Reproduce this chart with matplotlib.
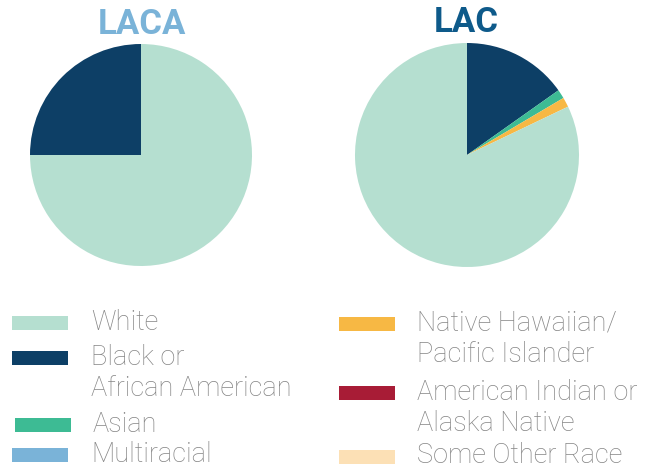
import matplotlib
matplotlib.use("Agg")
import matplotlib.pyplot as plt
from matplotlib.patches import Rectangle

plt.rcParams["font.family"] = ["Roboto", "DejaVu Sans"]

categories = ["White", "Black or\nAfrican American", "Asian", "Multiracial",
              "Native Hawaiian/\nPacific Islander", "American Indian or\nAlaska Native",
              "Some Other Race"]
colors = ["#b5dfd0", "#0d3f66", "#3dbb94", "#7ab3d8", "#f7b844", "#a81c36", "#fce0b5"]

# LACA: White, Black
laca_labels = ["White", "Black"]
laca_values = [75.0, 25.0]
laca_colors = ["#b5dfd0", "#0d3f66"]

# LAC: Black, Asian, Native Hawaiian, White (clockwise from top)
lac_labels = ["Black", "Asian", "Native Hawaiian", "White"]
lac_values = [15.2, 1.3, 1.4, 82.1]
lac_colors = ["#0d3f66", "#3dbb94", "#f7b844", "#b5dfd0"]

W, H = 645, 467
fig = plt.figure(figsize=(W / 100, H / 100), dpi=100)


def pie_axes(cx, cy, r):
    ax = fig.add_axes([(cx - r) / W, (H - cy - r) / H, 2 * r / W, 2 * r / H])
    ax.axis("off")
    return ax


ax1 = pie_axes(141, 155, 111)
ax1.pie(laca_values, colors=laca_colors, startangle=90, counterclock=False,
        radius=1, wedgeprops={"linewidth": 0})
ax1.set_xlim(-1, 1)
ax1.set_ylim(-1, 1)

ax2 = pie_axes(467, 155, 112)
ax2.pie(lac_values, colors=lac_colors, startangle=90, counterclock=False,
        radius=1, wedgeprops={"linewidth": 0})
ax2.set_xlim(-1, 1)
ax2.set_ylim(-1, 1)

fig.text(142 / W, 1 - 24 / H, "LACA", ha="center", va="center", fontsize=25,
         fontweight="bold", color="#7ab3d8")
fig.text(466 / W, 1 - 23 / H, "LAC", ha="center", va="center", fontsize=25,
         fontweight="bold", color="#0e5a8a")

# legend drawn in pixel space
lg = fig.add_axes([0, 0, 1, 1])
lg.set_xlim(0, W)
lg.set_ylim(H, 0)
lg.axis("off")

# (patch x, patch y center, text x, text baseline of first line)
slots = [(12, 323, 91, 330), (12, 358, 91, 365), (15, 425, 93, 432), (12, 455, 91, 462),
         (339, 324, 417, 331), (339, 393, 417, 400), (339, 457, 417, 463)]
line_gap = 31
for (px, py, tx, ty), label, c in zip(slots, categories, colors):
    lg.add_patch(Rectangle((px, py - 7), 56, 14, color=c, linewidth=0))
    for i, line in enumerate(label.split("\n")):
        lg.text(tx, ty + i * line_gap, line, ha="left", va="baseline", fontsize=19.5,
                fontweight="light", color="#858585")

fig.savefig("out.png", dpi=100)
